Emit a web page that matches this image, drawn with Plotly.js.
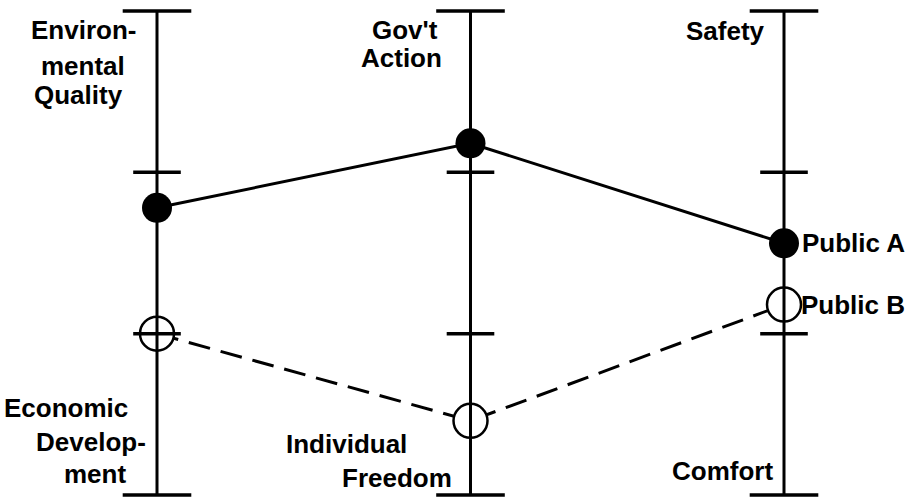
<!DOCTYPE html>
<html>
<head>
<meta charset="utf-8">
<script src="https://cdn.plot.ly/plotly-3.0.1.min.js"></script>
<style>
  html, body { margin: 0; padding: 0; background: #fff; }
  #plot { width: 920px; height: 499px; }
</style>
</head>
<body>
<div id="plot"></div>
<script>
// three value axes, each scaled 0 (bottom) .. 3 (top)
const axisIdx = [0, 1, 2];
const scaleEnds = [0, 3];
const scaleTicks = [1, 2];

const publicA = [1.78, 2.18, 1.56];
const publicB = [1.0, 0.46, 1.18];

const topLabels = [['Environ-', 'mental', 'Quality'], ["Gov't", 'Action'], ['Safety']];
const bottomLabels = [['Economic', 'Develop-', 'ment'], ['Individual', 'Freedom'], ['Comfort']];
const seriesNames = ['Public A', 'Public B'];

const FONT = 'Liberation Sans, Arial, sans-serif';
const H = 499;

// axis lines, one trace with gaps
let axX = [], axY = [];
axisIdx.forEach(i => { axX.push(i, i, null); axY.push(scaleEnds[0], scaleEnds[1], null); });

let endX = [], endY = [], tickX = [], tickY = [];
axisIdx.forEach(i => {
    scaleEnds.forEach(v => { endX.push(i); endY.push(v); });
    scaleTicks.forEach(v => { tickX.push(i); tickY.push(v); });
});

let traces = [
    { // Public B dashed
        x: axisIdx, y: publicB, mode: 'lines',
        line: {color: 'black', width: 3, dash: '22px,11px'}
    },
    { // blank out dashes inside the open circles
        x: axisIdx, y: publicB, mode: 'markers',
        marker: {symbol: 'circle', size: 35, color: 'white'}
    },
    {
        x: axX, y: axY, mode: 'lines',
        line: {color: 'black', width: 3}
    },
    {
        x: endX, y: endY, mode: 'markers',
        marker: {symbol: 'line-ew', size: 49, line: {color: 'black', width: 3.5}}
    },
    {
        x: tickX, y: tickY, mode: 'markers',
        marker: {symbol: 'line-ew', size: 34, line: {color: 'black', width: 3.5}}
    },
    {
        x: axisIdx, y: publicB, mode: 'markers',
        marker: {symbol: 'circle-open', size: 34, color: 'black', line: {color: 'black', width: 2.5}}
    },
    { // Public A solid
        x: axisIdx, y: publicA, mode: 'lines+markers',
        line: {color: 'black', width: 3},
        marker: {symbol: 'circle', size: 30, color: 'black'}
    }
];

// text placement: offset of right edge from axis (px) and baseline (px from top)
const topPlace = [[[-19, 39], [-30, 75], [-32, 104]], [[-31, 39], [-27, 67]], [[-17, 40]]];
const bottomPlace = [[[-27, 417], [-9, 451], [-29, 483]], [[-62, 453], [-17, 487]], [[-9, 480]]];

function lineNote(text, axis, dx, base) {
    return {
        text: '<b>' + text + '</b>', x: axis, xref: 'x', xanchor: 'right', xshift: dx,
        y: 1 - (base - 9) / H, yref: 'paper', yanchor: 'middle',
        showarrow: false, font: {family: FONT, size: 26, color: 'black'}
    };
}

let annotations = [];
axisIdx.forEach(i => {
    topLabels[i].forEach((t, k) => annotations.push(lineNote(t, i, topPlace[i][k][0], topPlace[i][k][1])));
    bottomLabels[i].forEach((t, k) => annotations.push(lineNote(t, i, bottomPlace[i][k][0], bottomPlace[i][k][1])));
});

// series names beside the last axis
[publicA, publicB].forEach((s, k) => {
    annotations.push({
        text: '<b>' + seriesNames[k] + '</b>', x: axisIdx[2], y: s[2], xref: 'x', yref: 'y',
        xanchor: 'left', yanchor: 'middle', xshift: k === 0 ? 16 : 15,
        showarrow: false, font: {family: FONT, size: 26, color: 'black'}
    });
});

let layout = {
    width: 920,
    height: 499,
    margin: {l: 0, r: 0, t: 0, b: 0},
    paper_bgcolor: 'white',
    plot_bgcolor: 'white',
    showlegend: false,
    xaxis: {range: [-0.5008, 2.4338], visible: false, fixedrange: true},
    yaxis: {range: [-0.0248, 3.068], visible: false, fixedrange: true},
    annotations: annotations,
    hovermode: false
};

Plotly.newPlot('plot', traces, layout, {displayModeBar: false, staticPlot: true});
</script>
</body>
</html>
